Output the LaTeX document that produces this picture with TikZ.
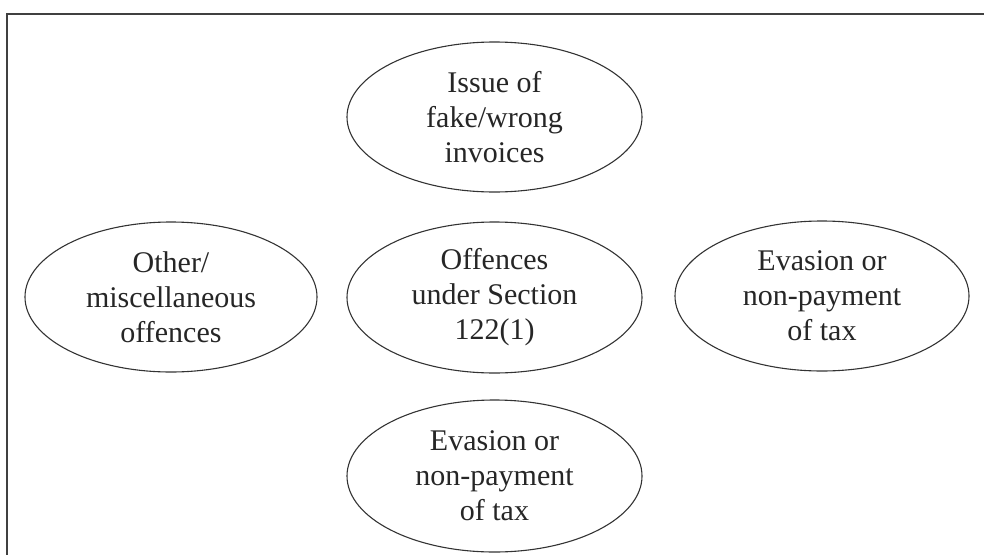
\documentclass[tikz,border=0pt]{standalone}
\usepackage{fontspec}
\setmainfont{Liberation Serif}
\usetikzlibrary{shapes.geometric}

\begin{document}
\begin{tikzpicture}[x=1pt,y=-1pt,
  offence/.style={ellipse, draw=black!80, line width=1.1pt, inner sep=0pt,
    align=center, font=\fontsize{30}{35}\selectfont, text=black!85},
  frameline/.style={draw=black!75, line width=1.6pt}]
  \useasboundingbox (0,0) rectangle (984,554);
  \clip (0,0) rectangle (984,554);

  % outer frame, running past the right and bottom edges
  \draw[frameline] (7,14) rectangle (1010,590);

  \node[offence, minimum width=295pt, minimum height=150pt] (fake) at (494.5,117)
    {Issue of\\fake/wrong\\invoices};
  \node[offence, minimum width=292pt, minimum height=150pt] (misc) at (171,297)
    {Other/\\miscellaneous\\offences};
  \node[offence, minimum width=295pt, minimum height=151pt] (main) at (494.5,297.5)
    {Offences\\under Section\\122(1)};
  \node[offence, minimum width=294pt, minimum height=150pt] (evasionR) at (822,296)
    {Evasion or\\non-payment\\of tax};
  \node[offence, minimum width=295pt, minimum height=152pt] (evasionB) at (494.5,476)
    {Evasion or\\non-payment\\of tax};
\end{tikzpicture}
\end{document}
